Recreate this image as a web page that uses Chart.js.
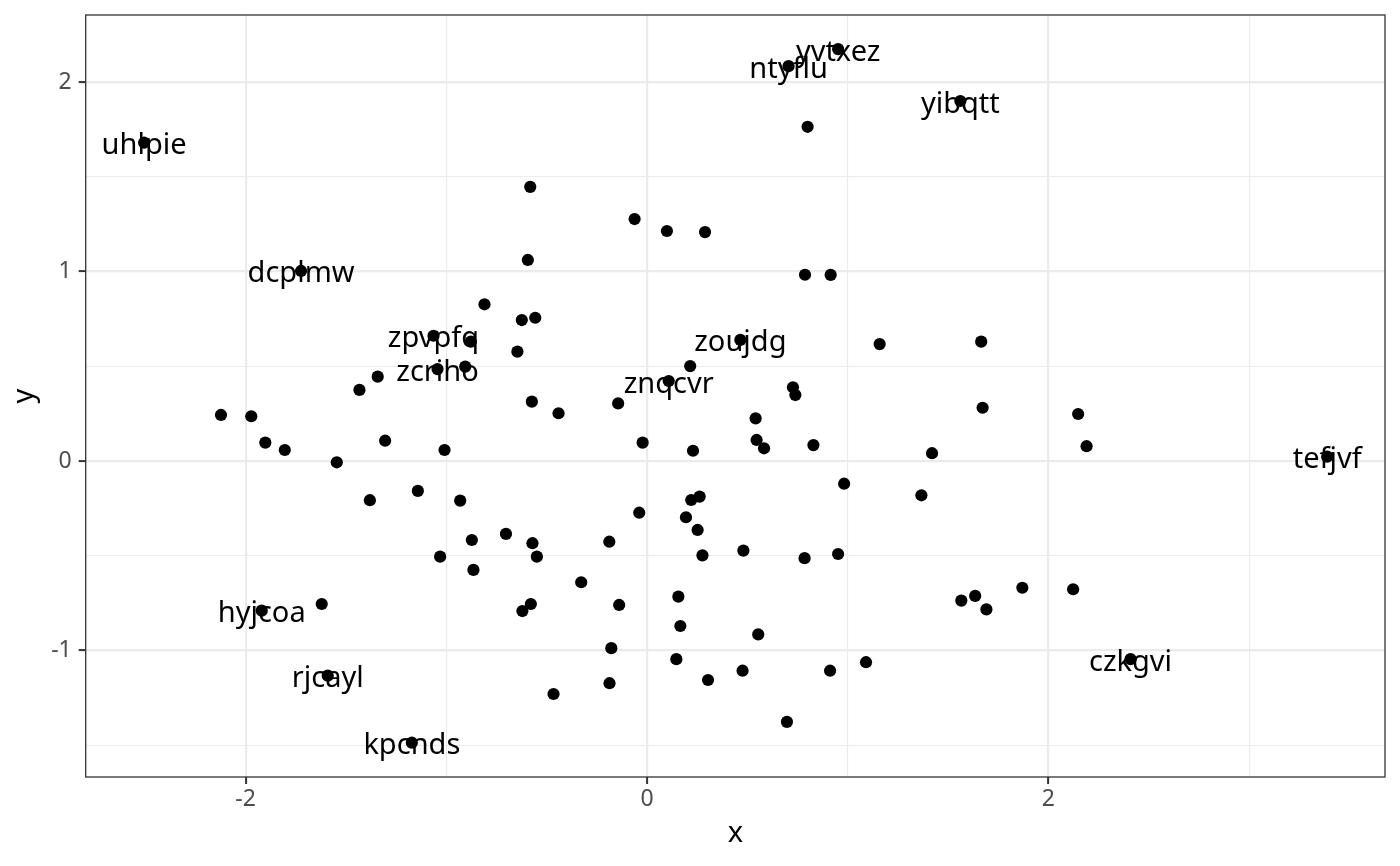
<!DOCTYPE html>
<html>
<head>
<meta charset="utf-8">
<script src="https://cdn.jsdelivr.net/npm/chart.js@4.4.1/dist/chart.umd.min.js"></script>
<style>
html,body{margin:0;padding:0;background:#ffffff;}
#wrap{width:1400px;height:866px;position:relative;}
</style>
</head>
<body>
<div id="wrap"><canvas id="c"></canvas></div>
<script>
// labelled points first (one name per point), then unlabelled points
const pointNames = ['uhlpie','dcplmw','zpvpfq','zcriho','ntyflu','yvtxez','yibqtt','zoujdg','znqcvr','tefjvf','czkgvi','hyjcoa','rjcayl','kpcnds'];
const xValues = [
  -2.506,-1.724,-1.064,-1.044,0.705,0.952,1.561,0.465,0.108,3.389,2.409,-1.920,-1.591,-1.172,
  -0.878,-0.906,-0.810,-0.624,-0.557,-0.594,-0.582,-0.646,-0.062,0.099,0.289,0.800,0.787,0.915,
  1.159,1.665,0.215,-0.144,-0.574,-0.441,-1.433,-1.342,-2.123,-1.972,-1.902,-1.805,-1.546,-1.305,
  -1.009,-0.022,0.229,0.541,0.546,0.583,0.727,0.739,0.829,1.420,1.672,2.148,2.190,0.982,1.367,
  -1.381,-1.142,-0.931,-1.031,-0.873,-0.865,-0.703,-0.571,-0.549,-0.039,-0.188,-0.328,-0.579,
  -0.621,-0.139,-0.178,-0.187,-0.466,0.156,0.166,0.146,0.304,0.194,0.220,0.262,0.252,0.276,
  0.480,0.785,0.952,0.554,0.476,0.697,0.912,1.091,1.566,1.635,1.691,1.870,2.123,-1.621
];
const yValues = [
  1.680,1.003,0.661,0.485,2.084,2.174,1.900,0.639,0.422,0.023,-1.046,-0.790,-1.133,-1.487,
  0.630,0.498,0.827,0.744,0.756,1.061,1.447,0.577,1.277,1.214,1.208,1.764,0.983,0.982,
  0.617,0.630,0.501,0.304,0.313,0.252,0.375,0.445,0.243,0.236,0.097,0.058,-0.007,0.107,
  0.058,0.097,0.054,0.225,0.111,0.067,0.389,0.348,0.084,0.041,0.281,0.248,0.078,-0.120,-0.181,
  -0.207,-0.158,-0.209,-0.505,-0.417,-0.575,-0.385,-0.434,-0.505,-0.273,-0.426,-0.640,-0.755,
  -0.792,-0.760,-0.988,-1.173,-1.230,-0.716,-0.871,-1.046,-1.156,-0.297,-0.206,-0.188,-0.364,-0.498,
  -0.473,-0.513,-0.491,-0.915,-1.107,-1.377,-1.107,-1.062,-0.737,-0.712,-0.783,-0.669,-0.677,-0.755
];
const xTicks = [-2,-1,0,1,2,3];
const xTickLabels = ['-2','','0','','2',''];
const yTicks = [-1.5,-1,-0.5,0,0.5,1,1.5,2];
const yTickLabels = ['','-1','','0','','1','','2'];
const xLimits = [-2.797, 3.677];
const yLimits = [-1.668, 2.354];
const xTitle = 'x';
const yTitle = 'y';

const points = xValues.map((x, i) => ({x: x, y: yValues[i]}));

function isMajor(ticks, labels, v) {
  const i = ticks.findIndex(t => Math.abs(t - v) < 1e-9);
  return i >= 0 && labels[i] !== '';
}

const FONT = '"Noto Sans", "Open Sans", sans-serif';
Chart.defaults.font.family = FONT;

const labelPlugin = {
  id: 'pointNameLabels',
  afterDatasetsDraw(chart) {
    const ctx = chart.ctx;
    const xs = chart.scales.x, ys = chart.scales.y;
    ctx.save();
    ctx.font = '29px ' + FONT;
    ctx.fillStyle = '#000000';
    ctx.textAlign = 'center';
    ctx.textBaseline = 'alphabetic';
    pointNames.forEach((name, i) => {
      const px = xs.getPixelForValue(xValues[i]);
      const py = ys.getPixelForValue(yValues[i]);
      ctx.fillText(name, px, py + 11.5);
    });
    ctx.restore();
  }
};

const borderPlugin = {
  id: 'panelBorder',
  afterDraw(chart) {
    const a = chart.chartArea;
    const ctx = chart.ctx;
    ctx.save();
    ctx.strokeStyle = '#333333';
    ctx.lineWidth = 1.3;
    ctx.strokeRect(a.left, a.top, a.right - a.left, a.bottom - a.top);
    ctx.restore();
  }
};

new Chart(document.getElementById('c'), {
  type: 'scatter',
  data: {
    datasets: [{
      data: points,
      pointRadius: 6.1,
      pointHoverRadius: 6.1,
      pointBorderWidth: 0,
      pointBackgroundColor: '#000000',
      pointBorderColor: '#000000'
    }]
  },
  options: {
    responsive: true,
    maintainAspectRatio: false,
    animation: false,
    events: [],
    layout: { autoPadding: false, padding: { top: 15, right: 15, left: 0, bottom: 0 } },
    plugins: { legend: { display: false }, tooltip: { enabled: false } },
    scales: {
      x: {
        type: 'linear',
        min: xLimits[0],
        max: xLimits[1],
        afterBuildTicks: s => { s.ticks = xTicks.map(v => ({ value: v })); },
        afterFit: s => { s.height = 89; s.paddingLeft = 0; s.paddingRight = 0; },
        ticks: {
          autoSkip: false,
          maxRotation: 0,
          color: '#4D4D4D',
          font: { size: 23 },
          padding: 1.5,
          callback: (v) => { const i = xTicks.findIndex(t => Math.abs(t - v) < 1e-9); return i >= 0 ? xTickLabels[i] : ''; }
        },
        grid: {
          color: '#EBEBEB',
          lineWidth: c => (c.tick && isMajor(xTicks, xTickLabels, c.tick.value)) ? 2.2 : 1.1,
          drawTicks: true,
          tickLength: 7,
          tickWidth: 2,
          tickColor: c => (c.tick && isMajor(xTicks, xTickLabels, c.tick.value)) ? '#333333' : 'rgba(0,0,0,0)'
        },
        border: { display: false },
        title: { display: true, text: xTitle, color: '#000000', font: { size: 29 }, padding: { top: 0, bottom: 15 } }
      },
      y: {
        type: 'linear',
        min: yLimits[0],
        max: yLimits[1],
        afterBuildTicks: s => { s.ticks = yTicks.map(v => ({ value: v })); },
        afterFit: s => { s.width = 85.7; s.paddingTop = 0; s.paddingBottom = 0; },
        ticks: {
          autoSkip: false,
          color: '#4D4D4D',
          font: { size: 23 },
          padding: 7,
          callback: (v) => { const i = yTicks.findIndex(t => Math.abs(t - v) < 1e-9); return i >= 0 ? yTickLabels[i] : ''; }
        },
        grid: {
          color: '#EBEBEB',
          lineWidth: c => (c.tick && isMajor(yTicks, yTickLabels, c.tick.value)) ? 2.2 : 1.1,
          drawTicks: true,
          tickLength: 7,
          tickWidth: 2,
          tickColor: c => (c.tick && isMajor(yTicks, yTickLabels, c.tick.value)) ? '#333333' : 'rgba(0,0,0,0)'
        },
        border: { display: false },
        title: { display: true, text: yTitle, color: '#000000', font: { size: 29 }, padding: { top: 7, bottom: 0 } }
      }
    }
  },
  plugins: [labelPlugin, borderPlugin]
});
</script>
</body>
</html>
